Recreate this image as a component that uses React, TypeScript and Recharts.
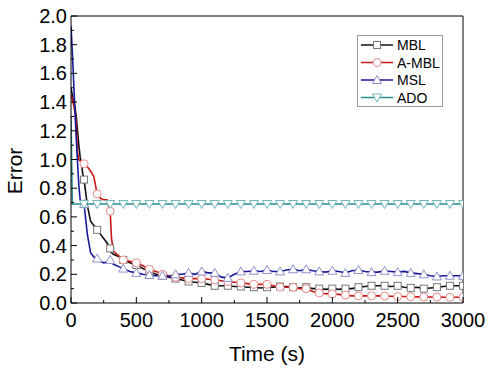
import { LineChart, Line, XAxis, YAxis, ReferenceLine } from 'recharts';

const times = [
  0, 10, 20, 30, 40, 50, 60, 70, 80, 90, 100, 125, 150, 175, 200, 225, 250, 275, 300, 310, 325, 350, 375, 400,
  450, 500, 550, 600, 650, 700, 750, 800, 850, 900, 950, 1000, 1050, 1100, 1150, 1200, 1250, 1300, 1350, 1400,
  1450, 1500, 1550, 1600, 1650, 1700, 1750, 1800, 1850, 1900, 1950, 2000, 2050, 2100, 2150, 2200, 2250, 2300,
  2350, 2400, 2450, 2500, 2550, 2600, 2650, 2700, 2750, 2800, 2850, 2900, 2950, 3000,
];

const mbl = [
  1.5, 1.45, 1.4, 1.37, 1.3, 1.2, 1.1, 1.02, 0.97, 0.9, 0.86, 0.68, 0.57, 0.54, 0.51, 0.48, 0.45, 0.42, 0.38, 0.35,
  0.34, 0.33, 0.32, 0.3, 0.28, 0.265, 0.24, 0.22, 0.2, 0.19, 0.18, 0.17, 0.16, 0.15, 0.145, 0.14, 0.13, 0.12, 0.12,
  0.12, 0.115, 0.115, 0.11, 0.11, 0.105, 0.11, 0.11, 0.115, 0.115, 0.11, 0.105, 0.11, 0.1, 0.1, 0.095, 0.1, 0.095,
  0.1, 0.1, 0.11, 0.115, 0.12, 0.12, 0.12, 0.115, 0.12, 0.11, 0.105, 0.11, 0.1, 0.105, 0.11, 0.115, 0.12, 0.12, 0.12,
];

const ambl = [
  1.45, 1.42, 1.38, 1.33, 1.25, 1.05, 1.0, 0.99, 0.98, 0.98, 0.97, 0.95, 0.92, 0.88, 0.76, 0.73, 0.72, 0.72, 0.64,
  0.45, 0.36, 0.34, 0.32, 0.3, 0.29, 0.28, 0.26, 0.235, 0.22, 0.2, 0.19, 0.18, 0.175, 0.17, 0.17, 0.17, 0.165, 0.16,
  0.155, 0.15, 0.145, 0.14, 0.135, 0.13, 0.13, 0.13, 0.12, 0.11, 0.11, 0.11, 0.1, 0.1, 0.08, 0.07, 0.065, 0.063,
  0.06, 0.055, 0.05, 0.05, 0.05, 0.05, 0.05, 0.048, 0.047, 0.045, 0.045, 0.044, 0.043, 0.042, 0.042, 0.041, 0.04,
  0.04, 0.04, 0.04,
];

const msl = [
  1.93, 1.75, 1.55, 1.35, 1.15, 0.98, 0.82, 0.72, 0.71, 0.7, 0.69, 0.48, 0.35, 0.32, 0.31, 0.29, 0.28, 0.285, 0.3,
  0.28, 0.27, 0.26, 0.25, 0.24, 0.22, 0.21, 0.2, 0.195, 0.19, 0.19, 0.185, 0.2, 0.2, 0.21, 0.2, 0.22, 0.21, 0.21,
  0.18, 0.175, 0.2, 0.22, 0.22, 0.225, 0.22, 0.23, 0.22, 0.22, 0.23, 0.235, 0.225, 0.235, 0.225, 0.22, 0.215, 0.225,
  0.22, 0.21, 0.225, 0.23, 0.22, 0.215, 0.215, 0.225, 0.22, 0.215, 0.22, 0.21, 0.205, 0.2, 0.19, 0.185, 0.19, 0.19,
  0.19, 0.19,
];

const ado = times.map((t) => (t === 0 ? 1.3 : 0.69));

const xTicks = [0, 250, 500, 750, 1000, 1250, 1500, 1750, 2000, 2250, 2500, 2750, 3000];
const yTicks = [0, 0.1, 0.2, 0.3, 0.4, 0.5, 0.6, 0.7, 0.8, 0.9, 1.0, 1.1, 1.2, 1.3, 1.4, 1.5, 1.6, 1.7, 1.8, 1.9, 2.0];

const data = times.map((t, i) => ({ time: t, mbl: mbl[i], ambl: ambl[i], msl: msl[i], ado: ado[i] }));

const FONT = '"Liberation Sans", Arial, sans-serif';

const series = [
  { key: 'mbl', name: 'MBL', color: '#111111', marker: '#777777', shape: 'square' },
  { key: 'ambl', name: 'A-MBL', color: '#c81818', marker: '#e88a8a', shape: 'circle' },
  { key: 'msl', name: 'MSL', color: '#1a1a9a', marker: '#9090cc', shape: 'up' },
  { key: 'ado', name: 'ADO', color: '#2a8f8f', marker: '#70b8b8', shape: 'down' },
];

function Marker({ shape, cx, cy, stroke }: { shape: string; cx: number; cy: number; stroke: string }) {
  if (shape === 'square') {
    return <rect x={cx - 3.5} y={cy - 3.5} width={7} height={7} fill="#fff" stroke={stroke} strokeWidth={1} />;
  }
  if (shape === 'circle') {
    return <circle cx={cx} cy={cy} r={4} fill="#fff" stroke={stroke} strokeWidth={1} />;
  }
  if (shape === 'up') {
    return <polygon points={`${cx},${cy - 4.5} ${cx - 4.5},${cy + 3.5} ${cx + 4.5},${cy + 3.5}`} fill="#fff" stroke={stroke} strokeWidth={1} />;
  }
  return <polygon points={`${cx},${cy + 4.5} ${cx - 4.5},${cy - 3.5} ${cx + 4.5},${cy - 3.5}`} fill="#fff" stroke={stroke} strokeWidth={1} />;
}

function makeDot(shape: string, stroke: string) {
  return (props: any) => {
    const { cx, cy, payload, index } = props;
    if (payload.time === 0 || payload.time % 100 !== 0) return <g key={`d-${index}`} />;
    return (
      <g key={`d-${index}`}>
        <Marker shape={shape} cx={cx} cy={cy} stroke={stroke} />
      </g>
    );
  };
}

function XTick(props: any) {
  const { x, y, payload } = props;
  const major = payload.value % 500 === 0;
  return (
    <g>
      <line x1={x} x2={x} y1={y} y2={y - (major ? 6 : 3)} stroke="#000" strokeWidth={1} />
      {major && (
        <text x={x} y={y + 24} textAnchor="middle" fontSize={20} fontFamily={FONT} fill="#000">
          {payload.value}
        </text>
      )}
    </g>
  );
}

function YTick(props: any) {
  const { x, y, payload } = props;
  const major = Math.round(payload.value * 10) % 2 === 0;
  return (
    <g>
      <line x1={x} x2={x + (major ? 6 : 3)} y1={y} y2={y} stroke="#000" strokeWidth={1} />
      {major && (
        <text x={x - 4} y={y + 7} textAnchor="end" fontSize={20} fontFamily={FONT} fill="#000">
          {payload.value.toFixed(1)}
        </text>
      )}
    </g>
  );
}

function LegendBox() {
  return (
    <svg width={86} height={72} style={{ display: 'block' }}>
      <rect x={0.5} y={0.5} width={85} height={71} fill="#fff" stroke="#999" strokeWidth={1} />
      {series.map((s, i) => {
        const cy = 10 + i * 17.5;
        return (
          <g key={s.key}>
            <line x1={4} x2={36} y1={cy} y2={cy} stroke={s.color} strokeWidth={1.5} />
            <Marker shape={s.shape} cx={20} cy={cy} stroke={s.marker} />
            <text x={40} y={cy + 5} fontSize={14} fontFamily={FONT} fill="#000">
              {s.name}
            </text>
          </g>
        );
      })}
    </svg>
  );
}

export default function App() {
  return (
    <div style={{ position: 'absolute', left: 0, top: 0, width: 493, height: 370, background: '#fff' }}>
      <LineChart width={493} height={370} data={data} margin={{ top: 16, right: 30, left: 0, bottom: 0 }}>
        <XAxis
          dataKey="time"
          type="number"
          domain={[0, 3000]}
          ticks={xTicks}
          interval={0}
          tick={<XTick />}
          tickLine={false}
          tickSize={0}
          tickMargin={0}
          height={67}
          stroke="#000"
          allowDataOverflow
          label={{ value: 'Time (s)', position: 'insideBottom', offset: 9, fontSize: 21, fontFamily: FONT, fill: '#000' }}
        />
        <YAxis
          type="number"
          domain={[0, 2]}
          ticks={yTicks}
          interval={0}
          tick={<YTick />}
          tickLine={false}
          tickSize={0}
          tickMargin={0}
          width={71}
          stroke="#000"
          allowDataOverflow
          label={{
            content: () => (
              <text
                x={22}
                y={171}
                transform="rotate(-90 22 171)"
                textAnchor="middle"
                fontSize={21}
                fontFamily={FONT}
                fill="#000"
              >
                Error
              </text>
            ),
          }}
        />
        <ReferenceLine y={2} stroke="#000" strokeWidth={1} />
        <ReferenceLine x={3000} stroke="#000" strokeWidth={1} />
        {series.map((s) => (
          <Line
            key={s.key}
            dataKey={s.key}
            name={s.name}
            type="linear"
            stroke={s.color}
            strokeWidth={1.6}
            dot={makeDot(s.shape, s.marker)}
            activeDot={false}
            isAnimationActive={false}
          />
        ))}
      </LineChart>
      <div style={{ position: 'absolute', left: 357, top: 35 }}>
        <LegendBox />
      </div>
    </div>
  );
}
